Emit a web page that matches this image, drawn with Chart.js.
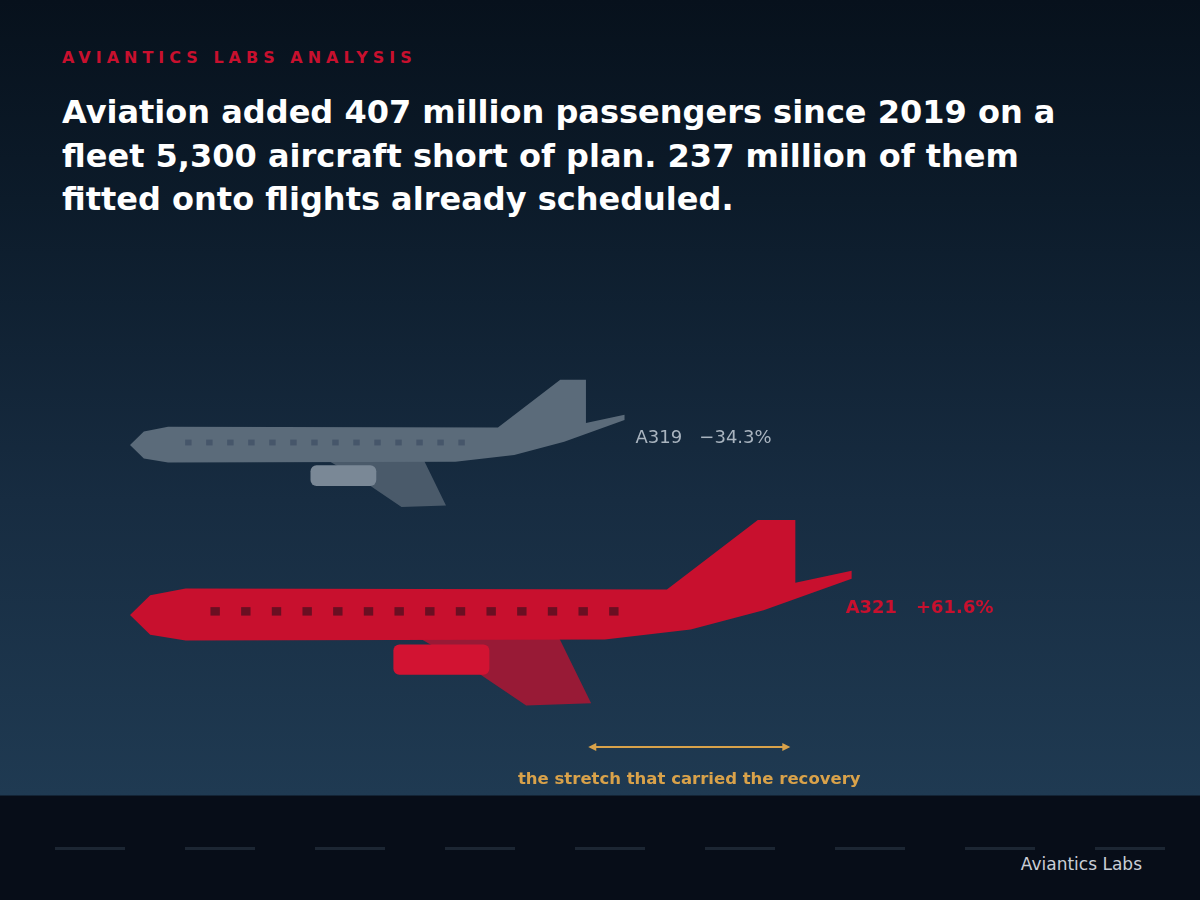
<!DOCTYPE html>
<html><head><meta charset="utf-8">
<script src="https://cdn.jsdelivr.net/npm/chart.js@4"></script>
<style>
html,body{margin:0;padding:0;width:1200px;height:900px;overflow:hidden;font-family:"DejaVu Sans",sans-serif;}
body{background:linear-gradient(#07111c 0px,#0c1b2a 200px,#172c41 500px,#1f3a52 795px,#070d18 796px,#070d18 900px);position:relative;}
.kicker{position:absolute;left:62px;top:48px;color:#c8102e;font-size:16px;font-weight:700;letter-spacing:5px;}
h1{position:absolute;left:62px;top:91px;margin:0;color:#fff;font-size:32px;line-height:43.5px;font-weight:700;width:1000px;}
.dash{position:absolute;top:847px;width:70px;height:3px;background:#1c2633;}
.brand{position:absolute;right:58px;top:854px;color:#c9ced6;font-size:17px;}
canvas{position:absolute;left:0;top:0;}
</style></head>
<body>
<div class="kicker">AVIANTICS LABS ANALYSIS</div>
<h1>Aviation added 407 million passengers since 2019 on a fleet 5,300 aircraft short of plan. 237 million of them fitted onto flights already scheduled.</h1>
<div class="brand">Aviantics Labs</div>
<canvas id="c" width="1200" height="900"></canvas>
<script>
// aircraft models, length in metres, share change 2019 -> now (%)
const models = ['A319', 'A321'];
const lengthsM = [33.8, 44.5];
const changePct = [-34.3, 61.6];
const axisStartM = 10.5;
const annotation = 'the stretch that carried the recovery';

for (let i = 0; i < 9; i++) {
    const d = document.createElement('div');
    d.className = 'dash';
    d.style.left = (55 + i * 130) + 'px';
    document.body.appendChild(d);
}

const styles = [
    { body: '#5b6b7a', wing: '#4a5a6a', engine: '#7a8896', win: '#46566a', text: '#a9b4bf', weight: '400' },
    { body: '#c8102e', wing: '#981a36', engine: '#d21332', win: '#6a0f22', text: '#c8102e', weight: '700' }
];

function drawPlane(ctx, x0, L, cy, s) {
    const H = 0.072 * L;
    const P = (fx, fy) => [x0 + fx * L, cy + fy * H];
    const poly = (pts, col) => {
        ctx.beginPath();
        pts.forEach((p, i) => { const q = P(p[0], p[1]); i ? ctx.lineTo(q[0], q[1]) : ctx.moveTo(q[0], q[1]); });
        ctx.closePath(); ctx.fillStyle = col; ctx.fill();
    };
    poly([[0.402, 0.45], [0.595, 0.45], [0.639, 1.7], [0.549, 1.74], [0.47, 1.0]], s.wing);
    poly([[0, 0], [0.028, -0.38], [0.077, -0.51], [0.744, -0.49], [0.87, -1.83], [0.922, -1.83],
          [0.922, -0.62], [1.0, -0.85], [1.0, -0.7], [0.878, -0.09], [0.777, 0.28], [0.658, 0.47],
          [0.077, 0.49], [0.028, 0.38]], s.body);
    const e1 = P(0.365, 0.57), e2 = P(0.498, 1.15);
    ctx.beginPath(); ctx.roundRect(e1[0], e1[1], e2[0] - e1[0], e2[1] - e1[1], 6);
    ctx.fillStyle = s.engine; ctx.fill();
    const w = 0.013 * L;
    ctx.fillStyle = s.win;
    for (let k = 0; k < 14; k++) {
        const p = P(0.118 + k * 0.0425, -0.07);
        ctx.fillRect(p[0] - w / 2, p[1] - w / 2 * 0.9, w, w * 0.9);
    }
}

const planes = {
    id: 'planes',
    afterDatasetsDraw(chart) {
        const ctx = chart.ctx;
        const meta = chart.getDatasetMeta(0);
        meta.data.forEach((bar, i) => {
            const x0 = Math.min(bar.base, bar.x), L = Math.abs(bar.x - bar.base);
            drawPlane(ctx, x0, L, bar.y, styles[i]);
            const sign = changePct[i] < 0 ? '\u2212' : '+';
            ctx.font = styles[i].weight + ' 18px "DejaVu Sans", sans-serif';
            ctx.fillStyle = styles[i].text;
            ctx.textBaseline = 'middle';
            ctx.fillText(models[i] + '   ' + sign + Math.abs(changePct[i]).toFixed(1) + '%', x0 + L + (i ? -6 : 11), bar.y - 7);
        });
        const big = meta.data[1];
        const x0 = Math.min(big.base, big.x), L = Math.abs(big.x - big.base);
        const xa = x0 + 0.635 * L, xb = x0 + 0.915 * L, ya = big.y + 132;
        ctx.strokeStyle = '#d9a24a'; ctx.fillStyle = '#d9a24a'; ctx.lineWidth = 2;
        ctx.beginPath(); ctx.moveTo(xa + 2, ya); ctx.lineTo(xb - 2, ya); ctx.stroke();
        [[xa, 1], [xb, -1]].forEach(([x, d]) => {
            ctx.beginPath(); ctx.moveTo(x, ya); ctx.lineTo(x + 8 * d, ya - 4); ctx.lineTo(x + 8 * d, ya + 4); ctx.closePath(); ctx.fill();
        });
        ctx.font = '700 16.5px "DejaVu Sans", sans-serif';
        ctx.textAlign = 'center';
        ctx.fillText(annotation, (xa + xb) / 2, ya + 33);
        ctx.textAlign = 'left';
    }
};

new Chart(document.getElementById('c'), {
    type: 'bar',
    data: { labels: models, datasets: [{ data: lengthsM.map(v => [axisStartM, v]), backgroundColor: 'rgba(0,0,0,0)' }] },
    options: {
        indexAxis: 'y',
        responsive: false,
        animation: false,
        layout: { padding: { left: 130, right: 30, top: 360, bottom: 200 } },
        scales: {
            x: { display: false, min: axisStartM, max: 59.5 },
            y: { display: false }
        },
        plugins: { legend: { display: false }, tooltip: { enabled: false } }
    },
    plugins: [planes]
});
</script>
</body></html>
